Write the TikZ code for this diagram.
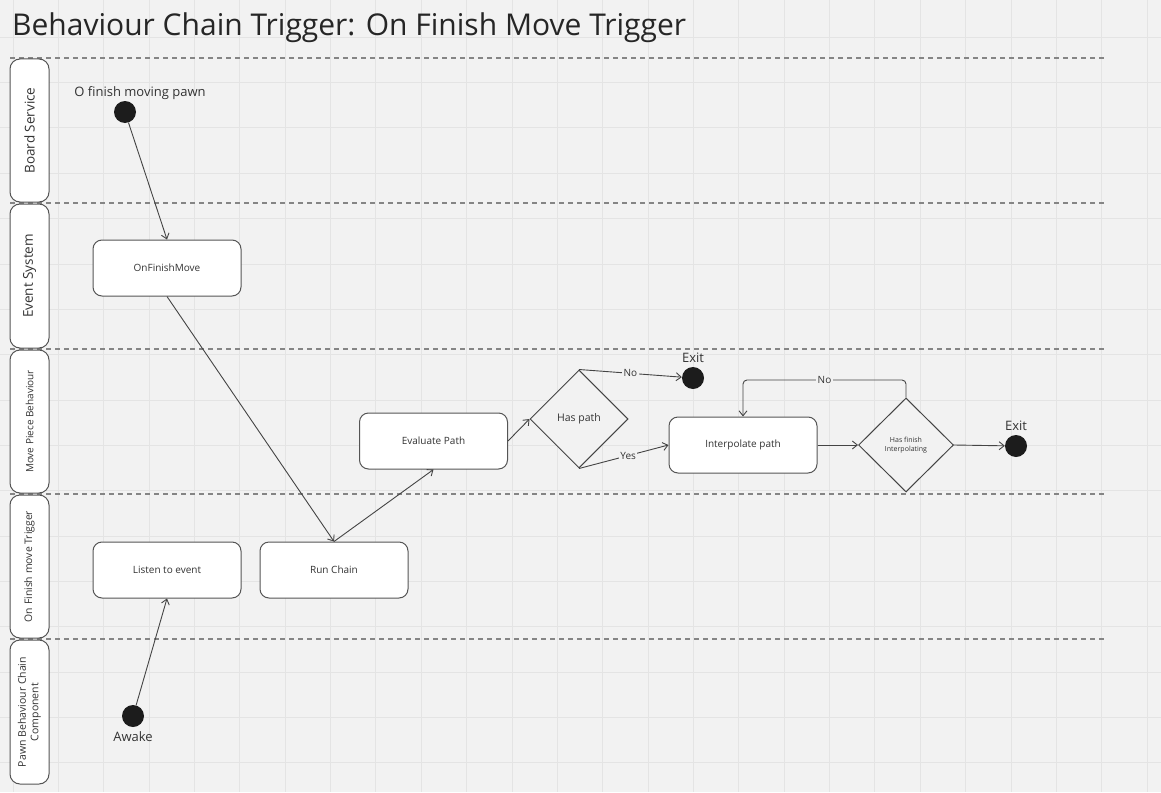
\documentclass[tikz,border=0pt]{standalone}
\usepackage{fontspec}
\setmainfont{Open Sans}
\usetikzlibrary{arrows.meta,shapes.geometric}
\definecolor{bgc}{HTML}{F2F2F2}
\definecolor{gridc}{HTML}{E4E4E4}
\definecolor{boxline}{HTML}{555555}
\definecolor{linec}{HTML}{444444}
\definecolor{textc}{HTML}{333333}
\definecolor{dotc}{HTML}{1C1C1C}
\definecolor{dashc}{HTML}{858585}
\tikzset{
  box/.style={draw=boxline, line width=1pt, fill=white, rounded corners=9pt, minimum width=148pt, minimum height=56pt, inner sep=0pt, font=\fontsize{10}{12}\selectfont, text=textc},
  dec/.style={diamond, draw=linec, line width=1pt, fill=bgc, minimum width=98pt, minimum height=98pt, inner sep=0pt, text=textc, align=center},
  dot/.style={circle, fill=dotc, minimum size=22pt, inner sep=0pt},
  lanebox/.style={draw=boxline, line width=1pt, fill=white, rounded corners=10pt, minimum height=39pt, inner sep=0pt, text=textc, rotate=90, align=center},
  conn/.style={draw=linec, line width=0.9pt, -{Straight Barb[length=5pt,width=8pt]}},
  clabel/.style={fill=bgc, inner sep=1.5pt, font=\fontsize{10}{12}\selectfont, text=textc},
  plain/.style={text=textc, inner sep=0pt},
  divider/.style={draw=dashc, line width=1.2pt, dash pattern=on 5pt off 4pt}
}
\begin{document}
\begin{tikzpicture}[x=1pt,y=-1pt]
\fill[bgc] (0,0) rectangle (1161,792);
\useasboundingbox (0,0) rectangle (1161,792);
% grid
\foreach \k in {0,...,25} {\draw[gridc, line width=0.8pt] ({13+45.36*\k},0) -- ({13+45.36*\k},792);}
\foreach \k in {-8,...,8} {\draw[gridc, line width=0.8pt] (0,{400+45.36*\k}) -- (1161,{400+45.36*\k});}
% title
\node[plain, anchor=base west, font=\fontsize{30}{34}\selectfont, text=black!85] (title) at (12,36) {Behaviour Chain Trigger: On Finish Move Trigger};
% dividers
\foreach \yy in {58,203,349,494,639} {\draw[divider] (10,\yy) -- (1105,\yy);}
% lane labels
\node[lanebox, minimum width=143pt, font=\fontsize{13.5}{16}\selectfont] (l1) at (29.5,130.5) {Board Service};
\node[lanebox, minimum width=144pt, font=\fontsize{13.5}{16}\selectfont] (l2) at (29.5,276) {Event System};
\node[lanebox, minimum width=143pt, font=\fontsize{10}{12}\selectfont] (l3) at (29.5,421.5) {Move Piece Behaviour};
\node[lanebox, minimum width=143pt, font=\fontsize{10.4}{12}\selectfont] (l4) at (29.5,566.5) {On Finish move Trigger};
\node[lanebox, minimum width=144pt, font=\fontsize{10.5}{12.5}\selectfont] (l5) at (29.5,712) {Pawn Behaviour Chain\\Component};
% nodes
\node[dot] (s1) at (125,112) {};
\node[plain, font=\fontsize{13}{15}\selectfont] (s1l) at (140,93) {O finish moving pawn};
\node[box] (ofm) at (167,268) {OnFinishMove};
\node[box] (li) at (167,570) {Listen to event};
\node[box] (rc) at (334,570) {Run Chain};
\node[box] (ep) at (433.5,441) {Evaluate Path};
\node[dec, font=\fontsize{10.5}{12}\selectfont] (hp) at (579,419) {Has path};
\node[dot] (ex1) at (693,378) {};
\node[plain, font=\fontsize{13}{15}\selectfont] (ex1l) at (693,358) {Exit};
\node[box] (ip) at (743,445) {Interpolate path};
\node[dec, minimum width=95pt, minimum height=94pt, font=\fontsize{7}{9}\selectfont] (hf) at (906,445) {Has finish\\Interpolating};
\node[dot] (ex2) at (1016,446) {};
\node[plain, font=\fontsize{13}{15}\selectfont] (ex2l) at (1016,426) {Exit};
\node[dot] (aw) at (133,716) {};
\node[plain, font=\fontsize{13}{15}\selectfont] (awl) at (133,737) {Awake};
\coordinate (lpR) at (906,380);
\coordinate (lpL) at (743,380);
% connectors
\draw[conn] (s1) -- (ofm.north);
\draw[conn] (ofm.south) -- (rc.north);
\draw[conn] (rc.north) -- (ep.south);
\draw[conn] (ep.east) -- (hp.west);
\draw[conn] (hp.north) -- node[clabel, pos=0.5] {No} (ex1);
\draw[conn] (hp.south) -- node[clabel, pos=0.55] {Yes} (ip.west);
\draw[conn] (ip.east) -- (hf.west);
\draw[conn] (hf.east) -- (ex2);
\draw[conn, rounded corners=4pt] (hf.north) -- (lpR) -- node[clabel] {No} (lpL) -- (ip.north);
\draw[conn] (aw) -- (li.south);
\end{tikzpicture}
\end{document}
